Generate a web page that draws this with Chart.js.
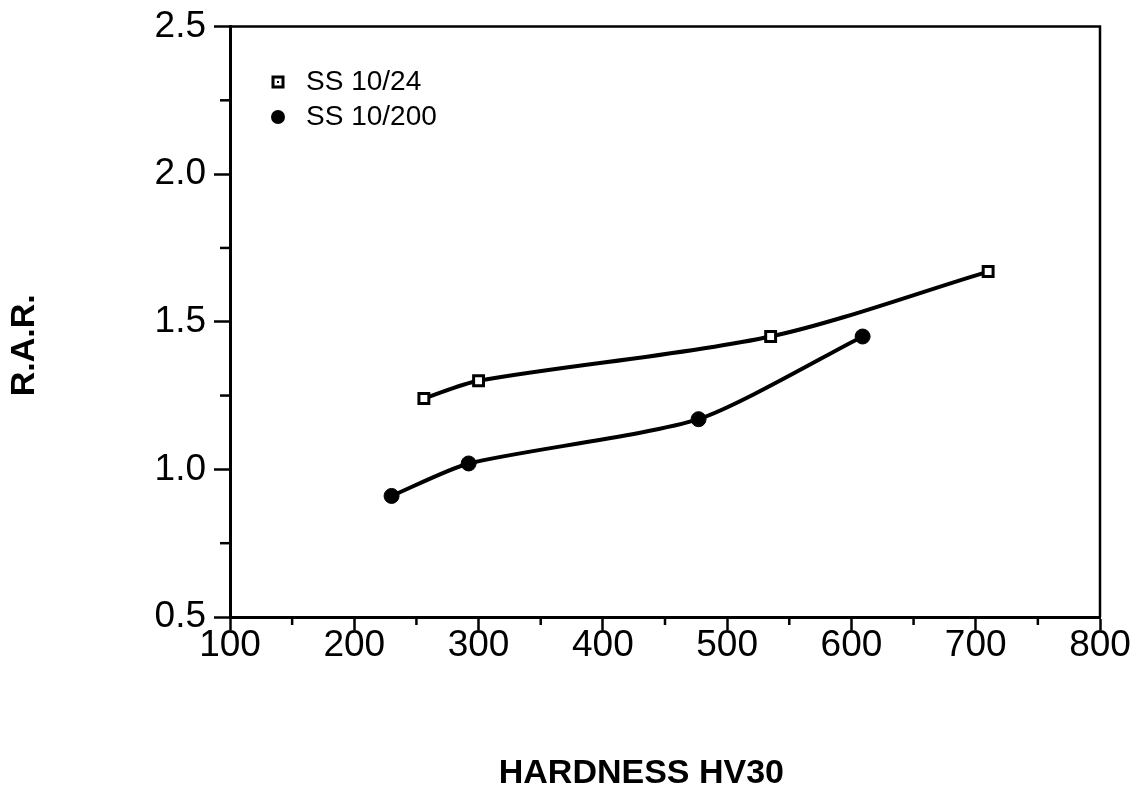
<!DOCTYPE html>
<html>
<head>
<meta charset="utf-8">
<script src="https://cdn.jsdelivr.net/npm/chart.js@4.4.1/dist/chart.umd.min.js"></script>
<style>
  html, body { margin: 0; padding: 0; background: #ffffff; }
  #wrap { width: 1140px; height: 794px; }
</style>
</head>
<body>
<div id="wrap"><canvas id="c" width="1140" height="794"></canvas></div>
<script>
// ---- data ----
const seriesLabels = ['SS 10/24', 'SS 10/200'];
const hardness24 = [256, 300, 535, 710];
const rar24 = [1.24, 1.30, 1.45, 1.67];
const hardness200 = [230, 292, 477, 609];
const rar200 = [0.91, 1.02, 1.17, 1.45];
const xTitle = 'HARDNESS HV30';
const yTitle = 'R.A.R.';
const xMin = 100, xMax = 800, xStep = 100, xMinorStep = 50;
const yMin = 0.5, yMax = 2.5, yStep = 0.5, yMinorStep = 0.25;

const FONT = "'Liberation Sans', Arial, Helvetica, sans-serif";

function toPoints(xs, ys) { return xs.map((x, i) => ({ x: x, y: ys[i] })); }

const frameAndMinor = {
  id: 'frameAndMinor',
  beforeDatasetsDraw(chart) {
    const { ctx, chartArea: a, scales } = chart;
    ctx.save();
    ctx.strokeStyle = '#000';
    ctx.lineWidth = 2.5;
    ctx.beginPath();
    ctx.moveTo(a.left, a.top); ctx.lineTo(a.right, a.top); ctx.lineTo(a.right, a.bottom);
    ctx.stroke();
    ctx.lineWidth = 2.5;
    for (let v = xMin + xMinorStep; v < xMax; v += xStep) {
      const px = scales.x.getPixelForValue(v);
      ctx.beginPath(); ctx.moveTo(px, a.bottom); ctx.lineTo(px, a.bottom + 8); ctx.stroke();
    }
    for (let v = yMin + yMinorStep; v < yMax; v += yStep) {
      const py = scales.y.getPixelForValue(v);
      ctx.beginPath(); ctx.moveTo(a.left, py); ctx.lineTo(a.left - 10, py); ctx.stroke();
    }
    ctx.restore();
  },
  afterDatasetsDraw(chart) {
    const { ctx } = chart;
    ctx.save();
    ctx.font = '28px ' + FONT;
    ctx.textBaseline = 'middle';
    const rows = [82, 117];
    chart.data.datasets.forEach((ds, i) => {
      const cx = 278, cy = rows[i];
      if (ds.pointStyle === 'rect') {
        ctx.fillStyle = '#fff';
        ctx.strokeStyle = '#000';
        ctx.lineWidth = 3;
        ctx.fillRect(cx - 5, cy - 5, 10, 10);
        ctx.strokeRect(cx - 5, cy - 5, 10, 10);
        ctx.fillStyle = '#000';
        ctx.fillRect(cx - 1, cy - 1, 2, 2);
      } else {
        ctx.fillStyle = '#000';
        ctx.beginPath(); ctx.arc(cx, cy, 7, 0, Math.PI * 2); ctx.fill();
      }
      ctx.fillStyle = '#000';
      ctx.fillText(ds.label, 306, cy);
    });
    ctx.restore();
  }
};

new Chart(document.getElementById('c'), {
  type: 'line',
  data: {
    datasets: [
      {
        label: seriesLabels[0],
        data: toPoints(hardness24, rar24),
        borderColor: '#000',
        borderWidth: 4,
        tension: 0.3,
        pointStyle: 'rect',
        pointRadius: 7,
        pointBorderWidth: 3,
        pointBackgroundColor: '#fff',
        pointBorderColor: '#000',
        fill: false
      },
      {
        label: seriesLabels[1],
        data: toPoints(hardness200, rar200),
        borderColor: '#000',
        borderWidth: 4,
        tension: 0.22,
        pointStyle: 'circle',
        pointRadius: 7.5,
        pointBorderWidth: 1,
        pointBackgroundColor: '#000',
        pointBorderColor: '#000',
        fill: false
      }
    ]
  },
  options: {
    responsive: false,
    devicePixelRatio: 1,
    animation: false,
    layout: { padding: { top: 19, right: 40, bottom: 0, left: 0 } },
    plugins: { legend: { display: false }, tooltip: { enabled: false } },
    scales: {
      x: {
        type: 'linear',
        min: xMin, max: xMax,
        afterFit(scale) { scale.height = 177; },
        ticks: {
          stepSize: xStep,
          color: '#000',
          padding: -6,
          font: { family: FONT, size: 37 },
          maxRotation: 0
        },
        grid: { display: true, drawOnChartArea: false, drawTicks: true, tickLength: 13, tickWidth: 2.5, tickColor: '#000' },
        border: { display: true, color: '#000', width: 3 },
        title: {
          display: true,
          text: xTitle + '     ',
          color: '#000',
          font: { family: FONT, size: 34, weight: 'bold' },
          padding: { top: 0, bottom: 0 }
        }
      },
      y: {
        type: 'linear',
        min: yMin, max: yMax,
        afterFit(scale) { scale.width = 230; },
        ticks: {
          stepSize: yStep,
          color: '#000',
          padding: 8,
          font: { family: FONT, size: 37, lineHeight: 1.0 },
          callback: (v) => Number(v).toFixed(1)
        },
        grid: { display: true, drawOnChartArea: false, drawTicks: true, tickLength: 16, tickWidth: 2.5, tickColor: '#000' },
        border: { display: true, color: '#000', width: 3 },
        title: {
          display: true,
          text: yTitle + '     ',
          color: '#000',
          font: { family: FONT, size: 34, weight: 'bold' },
          padding: { top: 4, bottom: 0 }
        }
      }
    }
  },
  plugins: [frameAndMinor]
});
</script>
</body>
</html>
